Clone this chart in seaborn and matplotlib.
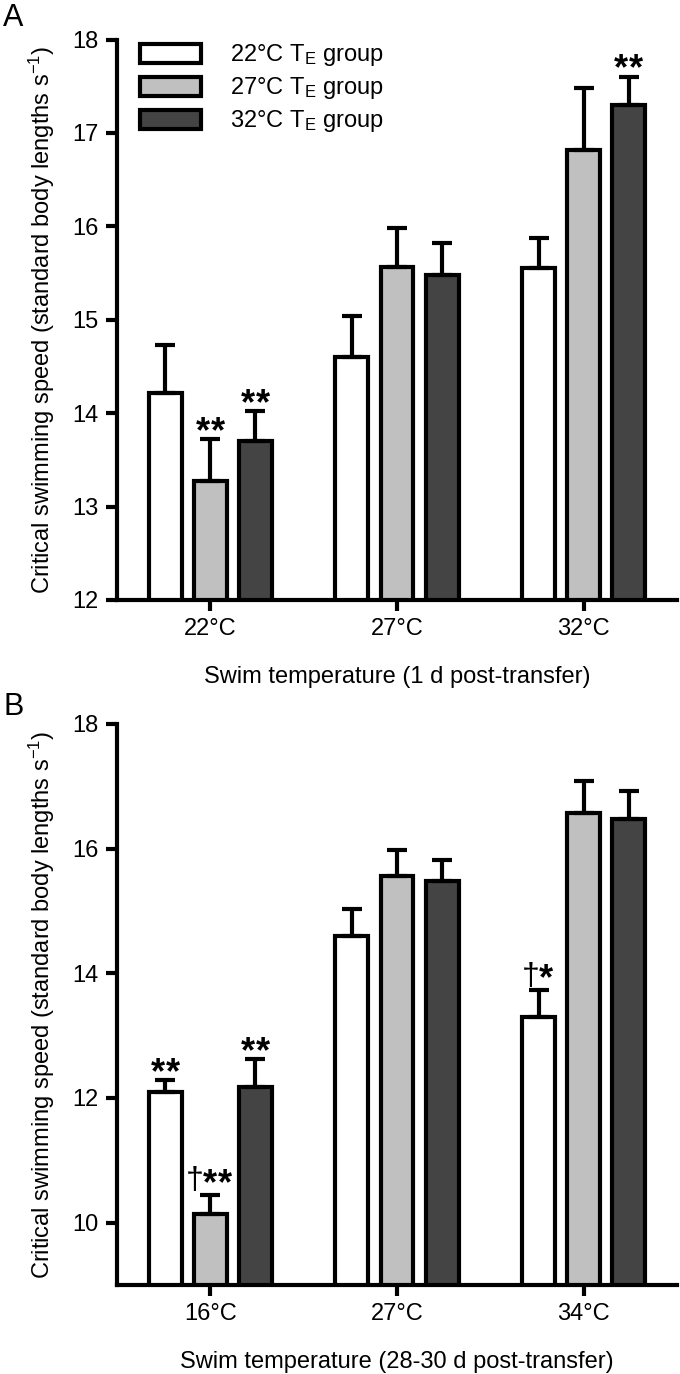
import numpy as np
import pandas as pd
import matplotlib
matplotlib.use("Agg")
import matplotlib.pyplot as plt
import seaborn as sns

# ---------------- data ----------------
groups = ["22°C T$_{\\mathrm{E}}$ group", "27°C T$_{\\mathrm{E}}$ group", "32°C T$_{\\mathrm{E}}$ group"]
colors = ["#ffffff", "#c0c0c0", "#444444"]

# Panel A: 1 d post-transfer
a_cats = ["22°C", "27°C", "32°C"]
a_g22 = [14.22, 14.60, 15.55]
a_g27 = [13.27, 15.56, 16.82]
a_g32 = [13.70, 15.48, 17.30]
a_e22 = [0.51, 0.44, 0.32]
a_e27 = [0.45, 0.42, 0.66]
a_e32 = [0.32, 0.34, 0.30]
a_m22 = ["", "", ""]
a_m27 = ["**", "", ""]
a_m32 = ["**", "", "**"]

# Panel B: 28-30 d post-transfer
b_cats = ["16°C", "27°C", "34°C"]
b_g22 = [12.10, 14.60, 13.30]
b_g27 = [10.14, 15.56, 16.58]
b_g32 = [12.17, 15.48, 16.48]
b_e22 = [0.19, 0.44, 0.43]
b_e27 = [0.31, 0.42, 0.50]
b_e32 = [0.45, 0.34, 0.44]
b_m22 = ["**", "", "†*"]
b_m27 = ["†**", "", ""]
b_m32 = ["**", "", ""]

# ---------------- style ----------------
sns.set_theme(style="ticks")
plt.rcParams["font.family"] = ["Liberation Sans", "DejaVu Sans"]
plt.rcParams["mathtext.fontset"] = "custom"
plt.rcParams["mathtext.rm"] = "Liberation Sans"
plt.rcParams["mathtext.it"] = "Liberation Sans:italic"
plt.rcParams["mathtext.bf"] = "Liberation Sans:bold"
plt.rcParams["text.color"] = "black"
plt.rcParams["axes.labelcolor"] = "black"
plt.rcParams["xtick.color"] = "black"
plt.rcParams["ytick.color"] = "black"

FS = 17
LW = 3
STAR_FS = 26
STAR_P = 11.0     # pitch between asterisks, points
DAG_FS = 23
DAG_W = 10.0

W, H = 680, 1374
fig = plt.figure(figsize=(W / 100, H / 100), dpi=100)
axA = fig.add_axes([117 / W, 1 - 600 / H, 560 / W, (600 - 39.5) / H])
axB = fig.add_axes([117 / W, 1 - 1285 / H, 560 / W, (1285 - 724) / H])


def put_mark(ax, x, y, mm):
    n = mm.count("*")
    dag = "†" in mm
    total = n * STAR_P + (DAG_W if dag else 0)
    left = -total / 2
    ybase = 0.5 if dag else -2.0
    if dag:
        ax.annotate("†", (x, y), xytext=(left + DAG_W / 2, 4),
                    textcoords="offset points", ha="center", va="baseline",
                    fontsize=DAG_FS, color="black")
        left += DAG_W
    for i in range(n):
        cx = left + STAR_P * (i + 0.5)
        ax.annotate("*", (x, y), xytext=(cx, ybase), textcoords="offset points",
                    ha="center", va="baseline", fontsize=STAR_FS,
                    fontweight="bold", color="black")


def draw(ax, cats, vals, errs, marks, ylim, yticks, xlabel, legend):
    rows = []
    for g, v in zip(groups, vals):
        for c, val in zip(cats, v):
            rows.append({"temp": c, "speed": val, "group": g})
    df = pd.DataFrame(rows)
    sns.barplot(data=df, x="temp", y="speed", hue="group", order=cats,
                hue_order=groups, palette=colors, saturation=1,
                edgecolor="black", linewidth=LW, width=0.725, gap=0.27,
                errorbar=None, legend=legend, ax=ax)
    for cont, e, m in zip(ax.containers, errs, marks):
        xs = [p.get_x() + p.get_width() / 2 for p in cont.patches]
        ys = [p.get_y() + p.get_height() for p in cont.patches]
        ax.errorbar(xs, ys, yerr=[np.zeros(len(e)), e], fmt="none",
                    ecolor="black", elinewidth=LW, capsize=7, capthick=LW,
                    zorder=3)
        for x, y, ee, mm in zip(xs, ys, e, m):
            if mm:
                put_mark(ax, x, y + ee, mm)
    ax.set_xlim(-0.5, 2.5)
    ax.set_ylim(*ylim)
    ax.set_yticks(yticks)
    ax.set_xlabel(xlabel, fontsize=FS, labelpad=19)
    ax.set_ylabel("Critical swimming speed (standard body lengths s$^{\\mathrm{-1}}$)",
                  fontsize=FS, labelpad=11)
    ax.tick_params(axis="both", length=8, width=LW, labelsize=FS, pad=5)
    sns.despine(ax=ax)
    for s in ["left", "bottom"]:
        ax.spines[s].set_linewidth(LW)
        ax.spines[s].set_color("black")
    if legend:
        h, l = ax.get_legend_handles_labels()
        ax.legend(h, l, loc="upper left", bbox_to_anchor=(0.041, 0.995),
                  frameon=False, fontsize=FS, handlelength=2.6,
                  handleheight=0.85, handletextpad=1.2, labelspacing=0.3,
                  borderpad=0, borderaxespad=0)


draw(axA, a_cats, [a_g22, a_g27, a_g32], [a_e22, a_e27, a_e32],
     [a_m22, a_m27, a_m32], (12, 18), [12, 13, 14, 15, 16, 17, 18],
     "Swim temperature (1 d post-transfer)", True)
draw(axB, b_cats, [b_g22, b_g27, b_g32], [b_e22, b_e27, b_e32],
     [b_m22, b_m27, b_m32], (9, 18), [10, 12, 14, 16, 18],
     "Swim temperature (28-30 d post-transfer)", False)

fig.text(3 / W, 1 - 3 / H, "A", fontsize=22, va="top", ha="left")
fig.text(3 / W, 1 - 692 / H, "B", fontsize=22, va="top", ha="left")

fig.savefig("out.png", dpi=100)
